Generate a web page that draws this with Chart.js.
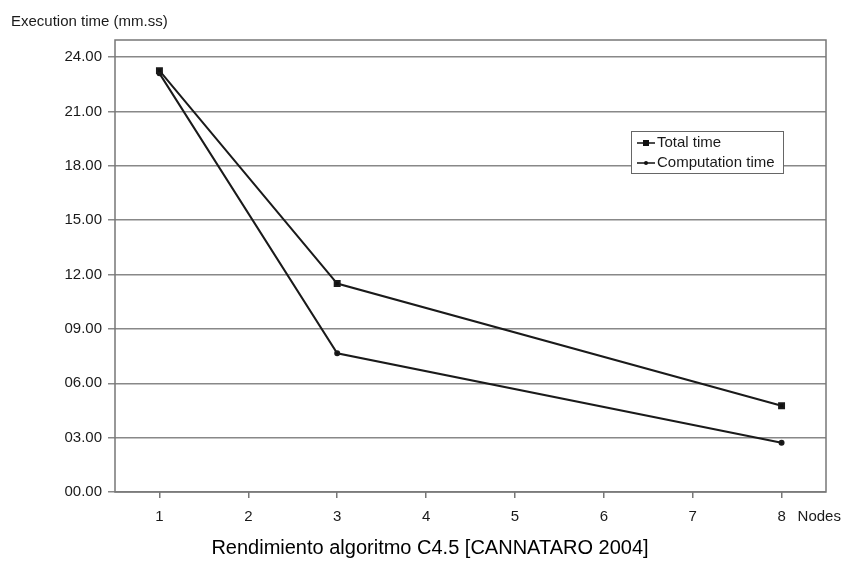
<!DOCTYPE html>
<html>
<head>
<meta charset="utf-8">
<script src="https://cdn.jsdelivr.net/npm/chart.js@4"></script>
<style>
  html, body { margin: 0; padding: 0; background: #fff; }
  #wrap { width: 843px; height: 566px; position: relative; }
</style>
</head>
<body>
<div id="wrap"><canvas id="chart"></canvas></div>
<script>
// datos
const nodes = [1, 3, 8];
const totalTime = [23.25, 11.5, 4.76];
const computationTime = [23.1, 7.65, 2.72];
const xTicks = [1, 2, 3, 4, 5, 6, 7, 8];
const yTicks = [0, 3, 6, 9, 12, 15, 18, 21, 24];
const seriesNames = ['Total time', 'Computation time'];

const FONT = '"Liberation Sans", Arial, sans-serif';

// textos, borde del area y leyenda dibujados a mano
const extras = {
  id: 'extras',
  afterDraw(chart) {
    const { ctx, chartArea: a, scales } = chart;
    ctx.save();
    ctx.strokeStyle = '#777';
    ctx.lineWidth = 1.5;
    ctx.strokeRect(a.left, a.top, a.right - a.left, a.bottom - a.top);

    ctx.fillStyle = '#1a1a1a';
    ctx.font = '15px ' + FONT;
    ctx.textAlign = 'left';
    ctx.textBaseline = 'middle';
    ctx.fillText('Execution time (mm.ss)', 11, 22);

    ctx.fillText('Nodes', scales.x.getPixelForValue(8) + 16, 517);

    ctx.font = '20px ' + FONT;
    ctx.textAlign = 'center';
    ctx.fillStyle = '#000';
    ctx.fillText('Rendimiento algoritmo C4.5 [CANNATARO 2004]', 430, 548);

    // leyenda
    const bx = 631, by = 131, bw = 152, bh = 42;
    ctx.fillStyle = '#fff';
    ctx.fillRect(bx, by, bw, bh);
    ctx.strokeStyle = '#666';
    ctx.lineWidth = 1;
    ctx.strokeRect(bx + 0.5, by + 0.5, bw, bh);
    ctx.font = '15px ' + FONT;
    ctx.textAlign = 'left';
    seriesNames.forEach((name, i) => {
      const y = by + 12 + i * 20;
      ctx.strokeStyle = '#111';
      ctx.lineWidth = 1.5;
      ctx.beginPath();
      ctx.moveTo(bx + 6, y);
      ctx.lineTo(bx + 24, y);
      ctx.stroke();
      ctx.fillStyle = '#111';
      if (i === 0) ctx.fillRect(bx + 12, y - 3, 6, 6);
      else { ctx.beginPath(); ctx.arc(bx + 15, y, 2, 0, Math.PI * 2); ctx.fill(); }
      ctx.fillStyle = '#1a1a1a';
      ctx.fillText(name, bx + 26, y);
    });
    ctx.restore();
  }
};

new Chart(document.getElementById('chart'), {
  type: 'line',
  data: {
    datasets: [{
      label: seriesNames[0],
      data: nodes.map((n, i) => ({ x: n, y: totalTime[i] })),
      borderColor: '#1a1a1a',
      backgroundColor: '#111',
      borderWidth: 2,
      pointStyle: 'rect',
      pointRadius: 3.5,
      tension: 0
    }, {
      label: seriesNames[1],
      data: nodes.map((n, i) => ({ x: n, y: computationTime[i] })),
      borderColor: '#1a1a1a',
      backgroundColor: '#111',
      borderWidth: 2,
      pointStyle: 'circle',
      pointRadius: 2,
      tension: 0
    }]
  },
  options: {
    responsive: true,
    maintainAspectRatio: false,
    animation: false,
    layout: { padding: { top: 40, right: 17, left: 0, bottom: 0 } },
    plugins: { legend: { display: false }, tooltip: { enabled: false } },
    scales: {
      x: {
        type: 'linear',
        min: 0.5,
        max: 8.5,
        afterBuildTicks: s => { s.ticks = xTicks.map(v => ({ value: v })); },
        afterFit: s => { s.height = 74; },
        grid: { drawOnChartArea: false, drawTicks: true, tickLength: 6, color: '#777', lineWidth: 1.5 },
        border: { display: false },
        ticks: { color: '#1a1a1a', font: { size: 15, family: FONT }, padding: 10 }
      },
      y: {
        min: 0,
        max: 24.94,
        afterBuildTicks: s => { s.ticks = yTicks.map(v => ({ value: v })); },
        afterFit: s => { s.width = 115; },
        grid: { color: '#888', lineWidth: 1.5, tickLength: 7 },
        border: { display: false },
        ticks: {
          color: '#1a1a1a',
          font: { size: 15, family: FONT },
          padding: 6,
          callback: v => v.toFixed(2).padStart(5, '0')
        }
      }
    }
  },
  plugins: [extras]
});
</script>
</body>
</html>
